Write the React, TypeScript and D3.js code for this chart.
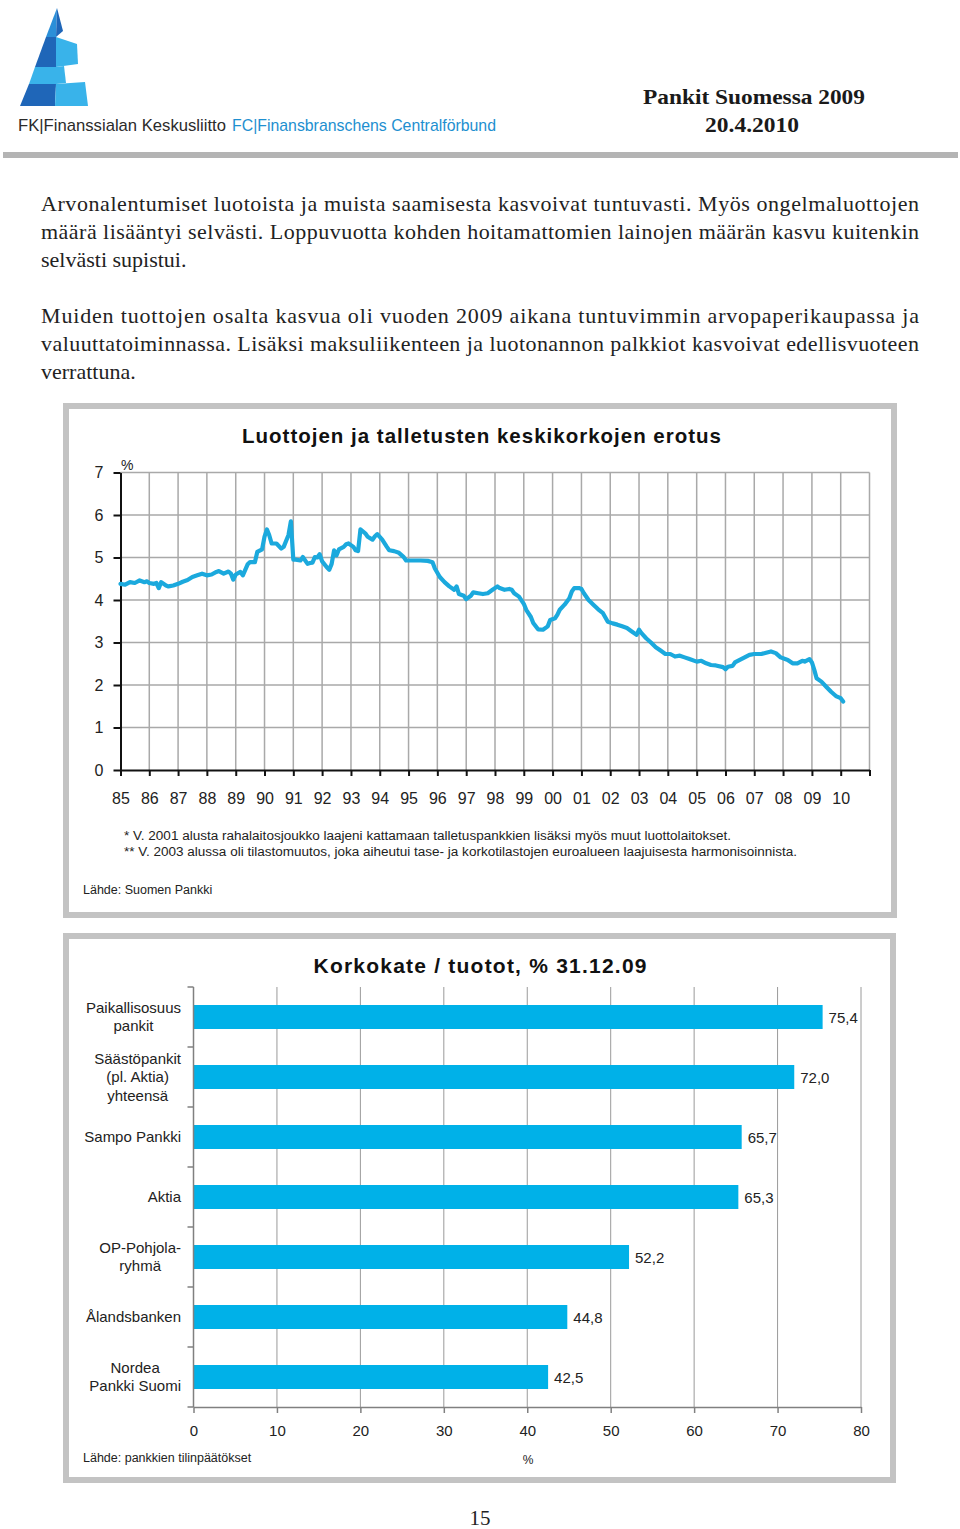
import React, { useRef, useEffect } from 'react';
import * as d3 from 'd3';

const bodyLines = [
  'Arvonalentumiset luotoista ja muista saamisesta kasvoivat tuntuvasti. Myös ongelmaluottojen',
  'määrä lisääntyi selvästi. Loppuvuotta kohden hoitamattomien lainojen määrän kasvu kuitenkin',
  'selvästi supistui.',
  'Muiden tuottojen osalta kasvua oli vuoden 2009 aikana tuntuvimmin arvopaperikaupassa ja',
  'valuuttatoiminnassa. Lisäksi maksuliikenteen ja luotonannon palkkiot kasvoivat edellisvuoteen',
  'verrattuna.',
];

// luottojen ja talletusten keskikorkojen erotus, %
const spreadMonths = [
  '1985-01', '1985-03', '1985-05', '1985-07', '1985-09', '1985-11', '1985-12',
  '1986-01', '1986-03', '1986-04', '1986-05', '1986-06', '1986-08', '1986-09', '1986-11',
  '1987-01', '1987-03', '1987-05', '1987-07', '1987-09', '1987-11',
  '1988-01', '1988-03', '1988-05', '1988-06', '1988-08', '1988-10', '1988-11', '1988-12',
  '1989-01', '1989-03', '1989-04', '1989-06', '1989-07', '1989-09', '1989-10', '1989-12',
  '1990-01', '1990-02', '1990-03', '1990-04', '1990-06', '1990-08', '1990-09', '1990-11', '1990-12',
  '1991-01', '1991-02', '1991-04', '1991-05', '1991-07', '1991-08', '1991-09', '1991-10', '1991-11', '1991-12',
  '1992-01', '1992-03', '1992-04', '1992-05', '1992-06', '1992-07', '1992-08', '1992-10', '1992-11', '1992-12',
  '1993-02', '1993-03', '1993-04', '1993-05', '1993-07', '1993-08', '1993-10', '1993-11', '1993-12',
  '1994-02', '1994-04', '1994-05', '1994-07', '1994-09', '1994-11', '1994-12',
  '1995-02', '1995-06', '1995-09', '1995-11', '1995-12',
  '1996-02', '1996-04', '1996-06', '1996-08', '1996-09', '1996-10', '1996-12',
  '1997-01', '1997-03', '1997-04', '1997-06', '1997-08', '1997-10', '1997-12',
  '1998-02', '1998-03', '1998-05', '1998-07', '1998-08', '1998-09', '1998-11',
  '1999-01', '1999-02', '1999-04', '1999-05', '1999-07', '1999-09', '1999-11', '1999-12',
  '2000-02', '2000-03', '2000-04', '2000-06', '2000-08', '2000-09', '2000-10', '2000-12',
  '2001-01', '2001-02', '2001-04', '2001-06', '2001-08', '2001-10', '2001-12',
  '2002-02', '2002-04', '2002-06', '2002-08', '2002-10', '2002-12',
  '2003-01', '2003-02', '2003-04', '2003-06', '2003-08', '2003-10', '2003-12',
  '2004-02', '2004-04', '2004-06', '2004-08', '2004-10',
  '2005-01', '2005-03', '2005-05', '2005-07', '2005-09', '2005-12',
  '2006-01', '2006-02', '2006-04', '2006-05', '2006-07', '2006-09', '2006-11',
  '2007-01', '2007-04', '2007-06', '2007-08', '2007-10', '2007-12',
  '2008-01', '2008-03', '2008-05', '2008-07', '2008-09', '2008-10', '2008-12',
  '2009-01', '2009-02', '2009-03', '2009-05', '2009-07', '2009-09', '2009-11',
  '2010-01', '2010-02',
];
const spreadValues = [
  4.38, 4.36, 4.42, 4.4, 4.46, 4.42, 4.44,
  4.4, 4.38, 4.4, 4.28, 4.42, 4.34, 4.32, 4.34,
  4.38, 4.43, 4.47, 4.54, 4.58, 4.62,
  4.58, 4.6, 4.66, 4.68, 4.62, 4.67, 4.62, 4.48,
  4.6, 4.66, 4.58, 4.84, 4.89, 4.89, 5.13, 5.19,
  5.49, 5.66, 5.53, 5.33, 5.33, 5.21, 5.25, 5.53, 5.85,
  4.95, 4.95, 4.93, 5.01, 4.85, 4.87, 4.88, 5.01, 5.0, 5.08,
  4.91, 4.77, 4.71, 4.85, 5.17, 5.05, 5.19, 5.25, 5.31, 5.33,
  5.25, 5.17, 5.15, 5.66, 5.57, 5.49, 5.42, 5.5, 5.55,
  5.42, 5.25, 5.17, 5.15, 5.11, 5.01, 4.93,
  4.93, 4.93, 4.92, 4.89, 4.74,
  4.54, 4.42, 4.32, 4.24, 4.32, 4.14, 4.1,
  4.02, 4.1, 4.18, 4.16, 4.14, 4.16, 4.24,
  4.32, 4.28, 4.24, 4.26, 4.24, 4.16, 4.08,
  3.91, 3.77, 3.6, 3.46, 3.31, 3.3, 3.38, 3.53,
  3.57, 3.65, 3.77, 3.89, 4.04, 4.2, 4.28, 4.28,
  4.26, 4.16, 4.0, 3.89, 3.78, 3.69, 3.49,
  3.45, 3.42, 3.38, 3.34, 3.26, 3.18,
  3.3, 3.22, 3.1, 3.0, 2.89, 2.81, 2.73,
  2.73, 2.67, 2.69, 2.65, 2.61,
  2.55, 2.57, 2.51, 2.47, 2.46, 2.42,
  2.37, 2.43, 2.45, 2.53, 2.59, 2.65, 2.71,
  2.73, 2.73, 2.76, 2.79, 2.75, 2.65,
  2.63, 2.59, 2.51, 2.51, 2.57, 2.55, 2.61,
  2.53, 2.35, 2.16, 2.08, 1.96, 1.84, 1.74,
  1.69, 1.61,
];
const yearLabels = [
  '85', '86', '87', '88', '89', '90', '91', '92', '93', '94', '95', '96', '97',
  '98', '99', '00', '01', '02', '03', '04', '05', '06', '07', '08', '09', '10',
];
const spreadTicks = [0, 1, 2, 3, 4, 5, 6, 7];

// korkokate / tuotot, % 31.12.09
const bankLabels = [
  ['Paikallisosuus', 'pankit'],
  ['Säästöpankit', '(pl. Aktia)', 'yhteensä'],
  ['Sampo Pankki'],
  ['Aktia'],
  ['OP-Pohjola-', 'ryhmä'],
  ['Ålandsbanken'],
  ['Nordea', 'Pankki Suomi'],
];
const bankValues = [75.4, 72.0, 65.7, 65.3, 52.2, 44.8, 42.5];
const ratioTicks = [0, 10, 20, 30, 40, 50, 60, 70, 80];

const SANS = 'Liberation Sans, Arial, sans-serif';
const SERIF = 'Liberation Serif, Times New Roman, serif';

const App = () => {
  const ref = useRef<SVGSVGElement>(null);

  useEffect(() => {
    if (!ref.current) return;
    const svg = d3.select(ref.current);
    svg.selectAll('*').remove();

    // --- sivun ylätunniste
    const logo = svg.append('g');
    const logoParts: [string, number[][]][] = [
      ['#2b8fd8', [[57, 8], [56, 37], [46, 37]]],
      ['#1f66b8', [[57, 8], [63, 31], [56, 37]]],
      ['#1f66b8', [[46, 37], [56, 37], [56, 67], [35, 67]]],
      ['#39b3ea', [[56, 37], [77, 44], [78, 64], [56, 67]]],
      ['#39b3ea', [[35, 67], [56, 67], [56, 84], [29, 84]]],
      ['#39b3ea', [[56, 67], [64, 66], [66, 83], [56, 84]]],
      ['#1f66b8', [[29, 84], [56, 84], [55, 106], [20, 106]]],
      ['#39b3ea', [[56, 84], [85, 82], [88, 106], [55, 106]]],
    ];
    logoParts.forEach(([c, pts]) => {
      logo.append('polygon').attr('points', pts.map((p) => p.join(',')).join(' ')).attr('fill', c);
    });
    svg.append('text').attr('x', 18).attr('y', 131).text('FK|Finanssialan Keskusliitto')
      .attr('textLength', 208).attr('lengthAdjust', 'spacingAndGlyphs')
      .style('font-family', SANS).style('font-size', '17px').attr('fill', '#2b2b2b');
    svg.append('text').attr('x', 232).attr('y', 131).text('FC|Finansbranschens Centralförbund')
      .attr('textLength', 264).attr('lengthAdjust', 'spacingAndGlyphs')
      .style('font-family', SANS).style('font-size', '17px').attr('fill', '#1e8fd0');
    svg.append('text').attr('x', 643).attr('y', 104).text('Pankit Suomessa 2009')
      .attr('textLength', 222).attr('lengthAdjust', 'spacingAndGlyphs')
      .style('font-family', SERIF).style('font-size', '22px').style('font-weight', 'bold').attr('fill', '#1a1a1a');
    svg.append('text').attr('x', 705).attr('y', 132).text('20.4.2010')
      .attr('textLength', 94).attr('lengthAdjust', 'spacingAndGlyphs')
      .style('font-family', SERIF).style('font-size', '22px').style('font-weight', 'bold').attr('fill', '#1a1a1a');
    svg.append('rect').attr('x', 3).attr('y', 152).attr('width', 955).attr('height', 6).attr('fill', '#b4b4b4');

    // --- leipäteksti
    const bodyY = [211, 239, 267, 323, 351, 379];
    bodyLines.forEach((line, i) => {
      const t = svg.append('text').attr('x', 41).attr('y', bodyY[i]).text(line)
        .style('font-family', SERIF).style('font-size', '22px').attr('fill', '#222');
      if (i !== 2 && i !== 5) t.attr('textLength', 878).attr('lengthAdjust', 'spacing');
    });

    // --- kuvio 1: korkoero
    svg.append('rect').attr('x', 66).attr('y', 406).attr('width', 828).attr('height', 509)
      .attr('fill', 'white').attr('stroke', '#c3c3c3').attr('stroke-width', 6);

    const parse = d3.timeParse('%Y-%m');
    const dates = spreadMonths.map((m) => parse(m) as Date);
    const x = d3.scaleTime().domain([new Date(1985, 0, 1), new Date(2011, 0, 1)]).range([120.5, 869.5]);
    const y = d3.scaleLinear().domain([0, 7]).range([770, 472.5]);
    const years = d3.timeYear.range(new Date(1985, 0, 1), new Date(2011, 0, 2));

    const grid = svg.append('g').attr('stroke', '#a9a9a9').attr('stroke-width', 1.5);
    spreadTicks.slice(1).forEach((v) => {
      grid.append('line').attr('x1', x.range()[0]).attr('x2', x.range()[1]).attr('y1', y(v)).attr('y2', y(v));
    });
    years.slice(1).forEach((d) => {
      grid.append('line').attr('x1', x(d)).attr('x2', x(d)).attr('y1', y(7)).attr('y2', y(0));
    });

    const xAxis = svg.append('g').attr('transform', `translate(0,${y(0)})`)
      .call(d3.axisBottom(x).tickValues(years).tickSize(6).tickSizeOuter(0).tickPadding(17)
        .tickFormat((d, i) => yearLabels[i] ?? ''));
    const yAxis = svg.append('g').attr('transform', `translate(${x.range()[0]},0)`)
      .call(d3.axisLeft(y).tickValues(spreadTicks).tickSize(7).tickSizeOuter(0).tickPadding(10)
        .tickFormat((d) => String(d)));
    [xAxis, yAxis].forEach((ax) => {
      ax.selectAll('path, line').attr('stroke', '#111').attr('stroke-width', 2);
      ax.selectAll('text').style('font-family', SANS).style('font-size', '16px').attr('fill', '#222');
    });

    const line = d3.line<number>()
      .x((d, i) => x(dates[i]))
      .y((d) => y(d));
    svg.append('path').datum(spreadValues).attr('d', line)
      .attr('fill', 'none').attr('stroke', '#1ba9dd').attr('stroke-width', 4.2)
      .attr('stroke-linejoin', 'round').attr('stroke-linecap', 'round');

    svg.append('text').attr('x', 121).attr('y', 470).text('%')
      .style('font-family', SANS).style('font-size', '14px').attr('fill', '#222');
    svg.append('text').attr('x', 242).attr('y', 443).text('Luottojen ja talletusten keskikorkojen erotus')
      .attr('textLength', 479).attr('lengthAdjust', 'spacing')
      .style('font-family', SANS).style('font-size', '20.5px').style('font-weight', 'bold').attr('fill', '#111');

    const notes = [
      '* V. 2001 alusta rahalaitosjoukko laajeni kattamaan talletuspankkien lisäksi myös muut luottolaitokset.',
      '** V. 2003 alussa oli tilastomuutos, joka aiheutui tase- ja korkotilastojen euroalueen laajuisesta harmonisoinnista.',
    ];
    notes.forEach((n, i) => {
      svg.append('text').attr('x', 124).attr('y', 840 + i * 16).text(n)
        .attr('textLength', i === 0 ? 607 : 673).attr('lengthAdjust', 'spacingAndGlyphs')
        .style('font-family', SANS).style('font-size', '12px').attr('fill', '#222');
    });
    svg.append('text').attr('x', 83).attr('y', 894).text('Lähde: Suomen Pankki')
      .style('font-family', SANS).style('font-size', '12.5px').attr('fill', '#222');

    // --- kuvio 2: korkokate / tuotot
    svg.append('rect').attr('x', 66).attr('y', 936).attr('width', 827).attr('height', 544)
      .attr('fill', 'white').attr('stroke', '#c3c3c3').attr('stroke-width', 6);

    const bx = d3.scaleLinear().domain([0, 80]).range([193.5, 861]);
    const by = d3.scaleBand<number>().domain(d3.range(bankValues.length))
      .range([987, 1407]).paddingInner(0.6).paddingOuter(0.3);

    const bgrid = svg.append('g').attr('stroke', '#9a9a9a').attr('stroke-width', 1);
    ratioTicks.slice(1).forEach((v) => {
      bgrid.append('line').attr('x1', bx(v)).attr('x2', bx(v)).attr('y1', 987).attr('y2', 1407);
    });

    svg.append('g').selectAll('rect').data(bankValues).enter().append('rect')
      .attr('x', bx(0)).attr('y', (d, i) => by(i) as number)
      .attr('width', (d) => bx(d) - bx(0)).attr('height', by.bandwidth())
      .attr('fill', '#00b1e8');

    svg.append('g').selectAll('text').data(bankValues).enter().append('text')
      .attr('x', (d) => bx(d) + 6).attr('y', (d, i) => (by(i) as number) + by.bandwidth() / 2 + 6)
      .text((d) => d.toFixed(1).replace('.', ','))
      .style('font-family', SANS).style('font-size', '15px').attr('fill', '#222');

    const bAxis = svg.append('g').attr('transform', 'translate(0,1407)')
      .call(d3.axisBottom(bx).tickValues(ratioTicks).tickSize(6).tickSizeOuter(0).tickPadding(12)
        .tickFormat((d) => String(d)));
    bAxis.selectAll('path, line').attr('stroke', '#808080').attr('stroke-width', 1.5);
    bAxis.selectAll('text').style('font-family', SANS).style('font-size', '15px').attr('fill', '#222');

    // pystyakseli ja luokkien väliset merkit
    const step = by.step();
    svg.append('line').attr('x1', bx(0)).attr('x2', bx(0)).attr('y1', 987).attr('y2', 1407)
      .attr('stroke', '#808080').attr('stroke-width', 1.5);
    d3.range(bankValues.length + 1).forEach((i) => {
      const yy = 987 + i * step;
      svg.append('line').attr('x1', bx(0) - 6).attr('x2', bx(0)).attr('y1', yy).attr('y2', yy)
        .attr('stroke', '#808080').attr('stroke-width', 1.5);
    });

    const labelRight = 181;
    bankLabels.forEach((lines, i) => {
      const cy = (by(i) as number) + by.bandwidth() / 2;
      const texts = lines.map((l, k) =>
        svg.append('text').text(l)
          .attr('y', cy + (k - (lines.length - 1) / 2) * 18.5 + 5)
          .style('font-family', SANS).style('font-size', '15px').attr('fill', '#222'));
      const widths = texts.map((t) => (t.node() as SVGTextElement).getComputedTextLength());
      const maxW = d3.max(widths) as number;
      texts.forEach((t) => {
        t.attr('x', labelRight - maxW / 2).attr('text-anchor', 'middle');
      });
    });

    svg.append('text').attr('x', 528).attr('y', 1464).attr('text-anchor', 'middle').text('%')
      .style('font-family', SANS).style('font-size', '12px').attr('fill', '#222');
    svg.append('text').attr('x', 83).attr('y', 1462).text('Lähde: pankkien tilinpäätökset')
      .style('font-family', SANS).style('font-size', '12.5px').attr('fill', '#222');
    svg.append('text').attr('x', 480).attr('y', 973).attr('text-anchor', 'middle').text('Korkokate / tuotot, % 31.12.09')
      .attr('textLength', 333).attr('lengthAdjust', 'spacing')
      .style('font-family', SANS).style('font-size', '21px').style('font-weight', 'bold').attr('fill', '#111');

    // sivunumero
    svg.append('text').attr('x', 480).attr('y', 1525).attr('text-anchor', 'middle').text('15')
      .style('font-family', SERIF).style('font-size', '21px').attr('fill', '#222');
  }, []);

  return (
    <svg
      ref={ref}
      width={960}
      height={1529}
      style={{ position: 'absolute', left: 0, top: 0, background: 'white' }}
    />
  );
};

export default App;
